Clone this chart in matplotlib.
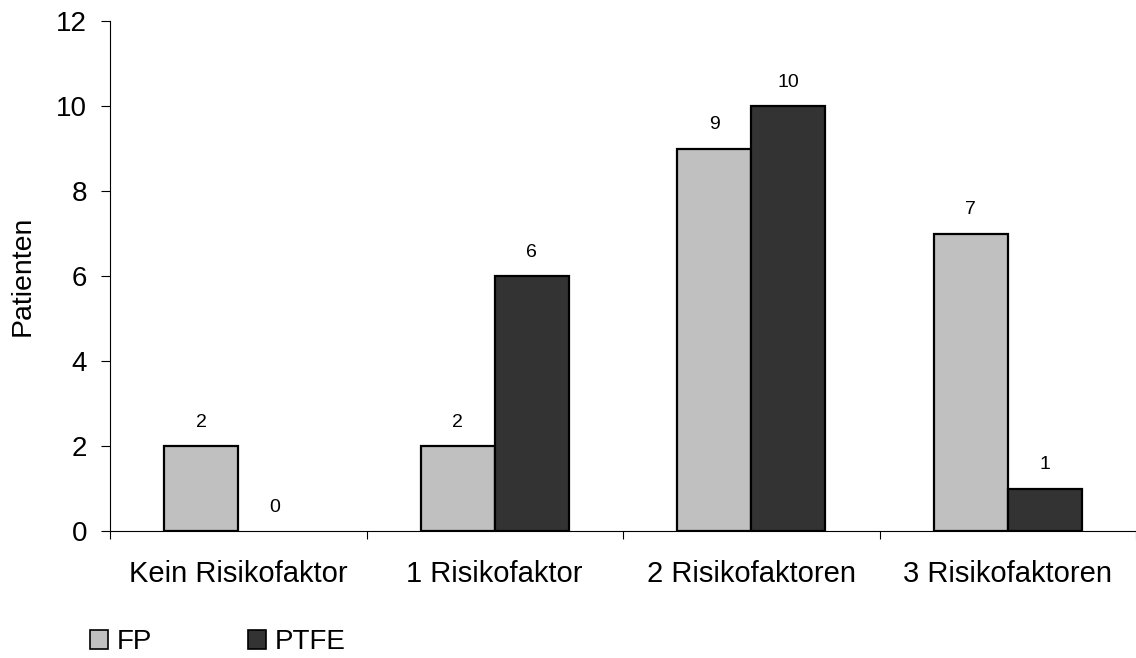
import matplotlib
matplotlib.use("Agg")
import matplotlib.pyplot as plt
import numpy as np
from matplotlib.patches import Patch

categories = ["Kein Risikofaktor", "1 Risikofaktor", "2 Risikofaktoren", "3 Risikofaktoren"]
fp_values = [2, 2, 9, 7]
ptfe_values = [0, 6, 10, 1]
series_names = ["FP", "PTFE"]
yticks = [0, 2, 4, 6, 8, 10, 12]

plt.rcParams['font.family'] = ['Liberation Sans', 'DejaVu Sans']

fig = plt.figure(figsize=(11.36, 6.58), dpi=100)
ax = fig.add_axes([110/1136, 1 - 531/658, 1026/1136, 510/658])

x = np.arange(len(categories))
w = 0.288
fp_color = "#C0C0C0"
ptfe_color = "#333333"
b1 = ax.bar(x - w/2, fp_values, w, color=fp_color, edgecolor="black",
            linewidth=[1.6 if v > 0 else 0 for v in fp_values], zorder=3)
b2 = ax.bar(x + w/2, ptfe_values, w, color=ptfe_color, edgecolor="black",
            linewidth=[1.6 if v > 0 else 0 for v in ptfe_values], zorder=3)

for bars, vals in ((b1, fp_values), (b2, ptfe_values)):
    for rect, v in zip(bars, vals):
        ax.annotate(str(v), (rect.get_x() + rect.get_width()/2, v),
                    xytext=(0, 17), textcoords="offset points",
                    ha="center", va="center", fontsize=14)

ax.set_xlim(-0.5, len(categories) - 0.5)
ax.set_ylim(0, 12)
ax.set_yticks(yticks)
ax.tick_params(axis='y', direction='out', length=6.5, width=0.8, labelsize=20, pad=10)
ax.set_xticks(np.arange(-0.5, len(categories), 1.0))
ax.set_xticklabels([])
ax.set_xticks(x, minor=True)
ax.set_xticklabels(categories, minor=True, fontsize=21)
ax.tick_params(axis='x', which='major', direction='out', length=6, width=0.8)
ax.tick_params(axis='x', which='minor', length=0, pad=21)
for s in ("top", "right"):
    ax.spines[s].set_visible(False)
ax.spines["left"].set_linewidth(0.8)
ax.spines["bottom"].set_linewidth(0.8)
fig.text(23/1136, 1 - 276/658, "Patienten", rotation=90, ha="center", va="center", fontsize=20.5)

handles = [Patch(facecolor=fp_color, edgecolor="black", linewidth=1.2),
           Patch(facecolor=ptfe_color, edgecolor="black", linewidth=1.2)]
fig.legend(handles, series_names, loc="center left", bbox_to_anchor=(90/1136, 1 - 642/658),
           ncol=2, frameon=False, fontsize=20, handlelength=0.65, handleheight=0.65,
           handletextpad=0.32, columnspacing=3.45, borderpad=0, borderaxespad=0)

fig.savefig("out.png", dpi=100)
